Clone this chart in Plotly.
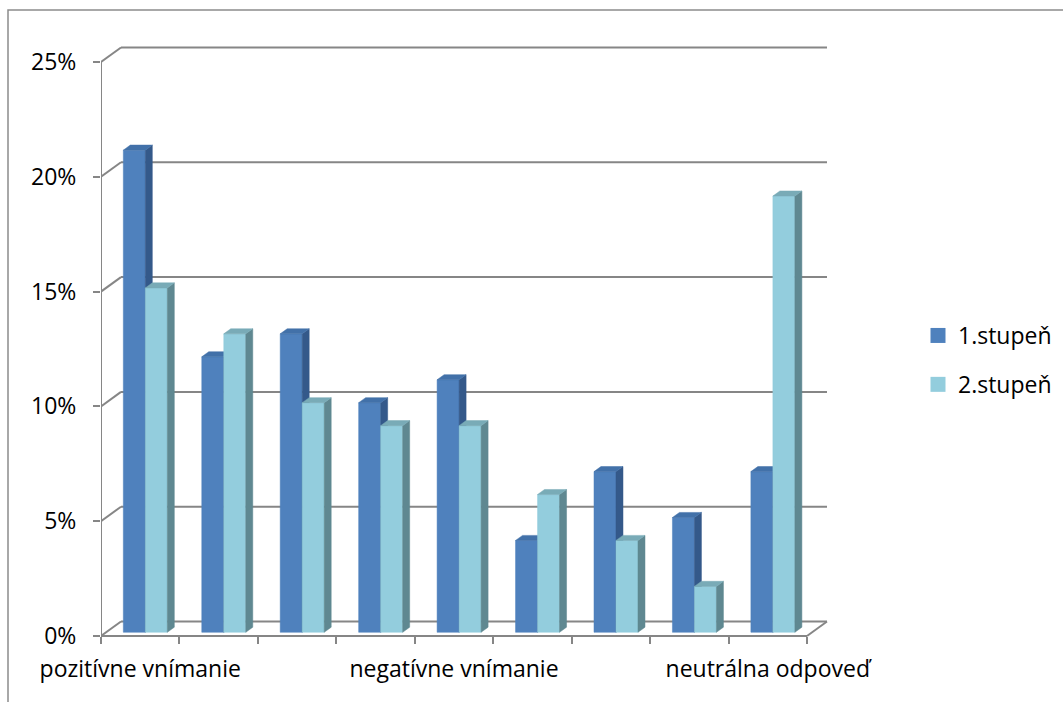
import plotly.graph_objects as go

# Survey categories (only every fourth label is printed on the axis)
categories = ["pozitívne vnímanie", "", "", "", "negatívne vnímanie", "", "", "", "neutrálna odpoveď"]
axis_labels = {0: "pozitívne vnímanie", 4: "negatívne vnímanie", 8: "neutrálna odpoveď"}

series_names = ["1.stupeň", "2.stupeň"]
stupen_1 = [21, 12, 13, 10, 11, 4, 7, 5, 7]
stupen_2 = [15, 13, 10, 9, 9, 6, 4, 2, 19]

y_ticks = [0, 5, 10, 15, 20, 25]
y_tick_text = ["0%", "5%", "10%", "15%", "20%", "25%"]

# Styling
FONT = "Open Sans"
FONT_SIZE = 23
GRID = "#868686"
face_colors = [
    {"front": "#4F81BD", "side": "#34598A", "top": "#4271A9"},
    {"front": "#93CDDD", "side": "#5F8891", "top": "#79ABB7"},
]

# Plot-area geometry (pixels)
W_PX, H_PX = 1063, 702
L, R, T, B = 101, 233, 44, 52
plot_w = W_PX - L - R
plot_h = H_PX - T - B
px_per_cat = 706 / 9
px_per_pct = 574 / 25

x_range = [-0.5, -0.5 + plot_w / px_per_cat]
y_bottom = -(650 - 636) / px_per_pct
y_range = [y_bottom, y_bottom + plot_h / px_per_pct]

# Oblique 3D projection: full floor depth and bar placement within it
DX = 20 / px_per_cat
DY = 14.5 / px_per_pct
BAR_FRONT = 0.255          # depth fraction of bar front face
BAR_DEPTH = 0.35           # depth fraction occupied by bars
BAR_W = 22 / px_per_cat

n = len(categories)


def px_x(px):
    return (px - L) / plot_w


def px_y(py):
    return (H_PX - B - py) / plot_h


fig = go.Figure()

# Back wall gridlines and their diagonal connectors to the front axis
shapes = []
line_style = dict(color=GRID, width=2)
for v in y_ticks:
    shapes.append(dict(type="line", xref="x", yref="y", layer="below",
                       x0=-0.5 + DX, y0=v + DY, x1=n - 0.5 + DX, y1=v + DY, line=line_style))
    shapes.append(dict(type="line", xref="x", yref="y", layer="below",
                       x0=-0.5, y0=v, x1=-0.5 + DX, y1=v + DY, line=line_style))
# Floor front edge and right side
shapes.append(dict(type="line", xref="x", yref="y", layer="below",
                   x0=-0.5, y0=0, x1=n - 0.5, y1=0, line=line_style))
shapes.append(dict(type="line", xref="x", yref="y", layer="below",
                   x0=n - 0.5, y0=0, x1=n - 0.5 + DX, y1=DY, line=line_style))
# Front value axis
shapes.append(dict(type="line", xref="x", yref="y", layer="below",
                   x0=-0.5, y0=0, x1=-0.5, y1=y_ticks[-1], line=line_style))
# Chart area border
shapes.append(dict(type="rect", xref="paper", yref="paper", layer="below",
                   x0=px_x(8), y0=px_y(10), x1=px_x(1075), y1=px_y(715),
                   line=dict(color="#8C8C8C", width=1.5)))

# 3D bars: front, side and top faces built from the series values
off_x = BAR_FRONT * DX
off_y = BAR_FRONT * DY
bdx = BAR_DEPTH * DX
bdy = BAR_DEPTH * DY

for s, values in enumerate([stupen_1, stupen_2]):
    fx, fy, sx, sy, tx, ty = [], [], [], [], [], []
    for i, v in enumerate(values):
        x0 = i + off_x + (s - 1) * BAR_W
        x1 = x0 + BAR_W
        y0 = off_y
        y1 = v + off_y
        fx += [x0, x1, x1, x0, x0, None]
        fy += [y0, y0, y1, y1, y0, None]
        sx += [x1, x1 + bdx, x1 + bdx, x1, x1, None]
        sy += [y0, y0 + bdy, y1 + bdy, y1, y0, None]
        tx += [x0, x1, x1 + bdx, x0 + bdx, x0, None]
        ty += [y1, y1, y1 + bdy, y1 + bdy, y1, None]
    c = face_colors[s]
    for xs, ys, col in [(fx, fy, c["front"]), (sx, sy, c["side"]), (tx, ty, c["top"])]:
        fig.add_trace(go.Scatter(x=xs, y=ys, mode="lines", fill="toself",
                                 fillcolor=col, line=dict(color=col, width=0.5),
                                 hoverinfo="skip", showlegend=False))

# Legend keys
for s, name in enumerate(series_names):
    fig.add_trace(go.Scatter(x=[None], y=[None], mode="markers", name=name,
                             legendgroup=name,
                             marker=dict(symbol="square", size=15,
                                         color=face_colors[s]["front"])))

fig.update_layout(
    width=W_PX, height=H_PX,
    margin=dict(l=L, r=R, t=T, b=B, pad=0, autoexpand=False),
    paper_bgcolor="white", plot_bgcolor="white",
    font=dict(family=FONT, size=FONT_SIZE, color="#000000"),
    shapes=shapes,
    showlegend=True,
    legend=dict(x=px_x(918), y=px_y(314), xanchor="left", yanchor="top",
                traceorder="grouped", tracegroupgap=16,
                font=dict(family=FONT, size=FONT_SIZE, color="#000000"),
                bgcolor="rgba(0,0,0,0)", borderwidth=0, itemclick=False),
    xaxis=dict(range=x_range, showgrid=False, zeroline=False, showline=False,
               anchor="free", position=(650 - 636) / plot_h,
               tickmode="array", tickvals=list(axis_labels.keys()),
               ticktext=list(axis_labels.values()),
               ticks="outside", ticklen=7, tickwidth=2, tickcolor="rgba(0,0,0,0)",
               ticklabelstandoff=5,
               minor=dict(tickmode="linear", tick0=-0.5, dtick=1, ticks="outside",
                          ticklen=7, tickwidth=2, tickcolor=GRID, showgrid=False),
               fixedrange=True),
    yaxis=dict(range=y_range, showgrid=False, zeroline=False, showline=False,
               tickmode="array", tickvals=y_ticks, ticktext=y_tick_text,
               ticks="outside", ticklen=7, tickwidth=2, tickcolor=GRID,
               ticklabelstandoff=12, fixedrange=True),
)

fig.write_html("out.html")
